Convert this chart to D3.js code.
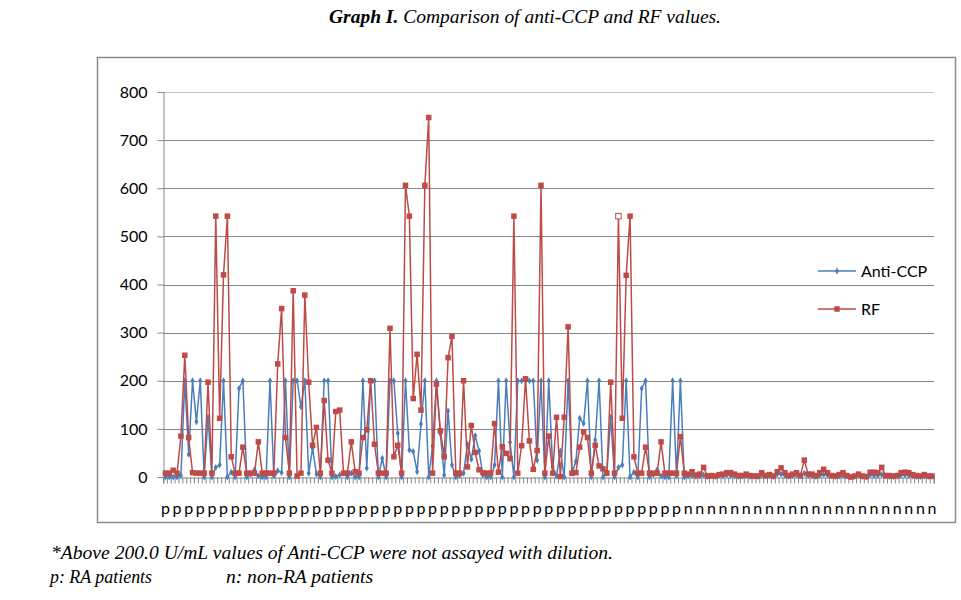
<!DOCTYPE html>
<html><head><meta charset="utf-8">
<script src="https://cdn.jsdelivr.net/npm/d3@7"></script>
<style>body{margin:0;background:#fff;} svg{display:block}</style>
</head><body>
<svg id="c" width="961" height="600"></svg>
<script>
// ---- data ----
const groupLabels = ["p", "n"];
const groupSizes = [135, 64];
const seriesNames = ["Anti-CCP", "RF"];
const yTicks = [0, 100, 200, 300, 400, 500, 600, 700, 800];

const antiCCP = [
  0,0,0,0,3,200,47,200,115,200,
  0,124,0,20,25,200,0,10,0,184,
  200,0,5,15,2,0,0,200,2,13,
  9,200,0,200,200,146,200,8,60,6,
  0,200,200,0,1,4,8,0,8,0,
  0,200,18,200,200,0,39,0,200,200,
  91,0,200,56,53,11,110,200,0,65,
  200,90,4,137,25,0,3,8,68,37,
  86,54,4,0,0,25,200,0,200,72,
  0,200,200,200,200,200,35,200,0,200,
  21,2,54,0,200,8,32,122,111,200,
  0,77,200,0,8,124,0,20,25,200,
  0,10,0,184,200,0,5,15,2,0,
  0,200,2,200,0,
  2,3,1,2,4,1,2,1,3,2,
  4,3,2,1,2,3,1,2,1,4,
  2,3,1,5,6,3,2,3,4,2,
  8,3,2,1,3,5,4,2,1,2,
  3,2,0,1,3,1,0,4,3,3,
  5,2,1,1,2,4,4,3,2,1,
  1,2,1,1
];

const rf = [
  8,8,14,8,85,253,82,9,8,8,
  8,197,8,542,122,420,542,42,8,8,
  62,8,8,8,73,8,8,8,8,235,
  350,82,8,387,2,8,378,197,66,103,
  8,159,35,8,136,139,8,8,73,11,
  8,82,98,200,68,8,8,8,309,42,
  66,8,606,542,163,255,139,606,747,8,
  193,96,42,248,292,8,8,200,21,107,
  51,15,9,8,8,111,10,63,49,38,
  542,8,65,204,75,16,55,606,8,85,
  8,124,1,124,312,8,9,62,94,82,
  8,66,23,17,8,197,8,542,122,419,
  542,42,8,8,62,8,8,8,73,8,
  8,8,8,84,8,
  6,11,4,6,20,2,3,2,5,6,
  9,9,6,3,3,6,3,2,2,9,
  3,5,2,11,19,9,3,6,9,3,
  35,6,6,3,9,16,9,3,2,5,
  9,3,0,2,6,2,1,10,10,9,
  20,3,3,2,3,9,10,9,5,3,
  2,5,2,2
];
const hollowRF = [117];

// ---- build ----
const categories = [];
groupLabels.forEach((g, k) => { for (let i = 0; i < groupSizes[k]; i++) categories.push(g); });
const idx = categories.map((_, i) => i);

const svg = d3.select("#c");
const P = {left: 163.5, right: 934, top: 92, bottom: 477};
const x = d3.scaleBand().domain(idx).range([P.left, P.right]);
const bw = x.bandwidth();
const cx = i => x(i) + bw / 2;
const y = d3.scaleLinear().domain([0, 800]).range([P.bottom, P.top]);

const blue = "#4A7EBB", red = "#BE4B48";
const sans = "Lato, 'Open Sans', sans-serif";
const serif = "'Liberation Serif', 'Times New Roman', serif";

// outer border
svg.append("rect").attr("x", 97.5).attr("y", 57.5).attr("width", 858).attr("height", 465)
  .attr("fill", "none").attr("stroke", "#8c8c8c").attr("stroke-width", 1.5);

// title
const t = svg.append("text").attr("x", 329).attr("y", 23)
  .attr("font-family", serif).attr("font-size", 18).attr("font-style", "italic").attr("fill", "#000")
  .attr("textLength", 392).attr("lengthAdjust", "spacingAndGlyphs");
t.append("tspan").attr("font-weight", "bold").text("Graph I.");
t.append("tspan").text(" Comparison of anti-CCP and RF values.");

// gridlines
svg.append("g").selectAll("line").data(yTicks.filter(v => v > 0)).join("line")
  .attr("x1", P.left).attr("x2", P.right)
  .attr("y1", d => Math.round(y(d)) + 0.5).attr("y2", d => Math.round(y(d)) + 0.5)
  .attr("stroke", d => d === 800 ? "#c4c4c4" : "#878787").attr("stroke-width", 1);

// y axis
const ya = svg.append("g").attr("transform", `translate(${P.left},0)`)
  .call(d3.axisLeft(y).tickValues(yTicks).tickSize(6).tickPadding(10));
ya.select(".domain").attr("stroke", "#878787");
ya.selectAll(".tick line").attr("stroke", "#878787");
ya.selectAll(".tick text").attr("font-family", sans).attr("font-size", 16).attr("fill", "#000");

// x axis (ticks between categories)
const xa = svg.append("g").attr("transform", `translate(0,${P.bottom + 0.5})`)
  .call(d3.axisBottom(x).tickSize(6).tickFormat(""));
xa.select(".domain").attr("stroke", "#878787");
xa.selectAll(".tick line").attr("stroke", "#878787").attr("transform", `translate(${-bw / 2},0)`);
xa.append("line").attr("x1", P.right).attr("x2", P.right).attr("y1", 0).attr("y2", 6).attr("stroke", "#878787");

// x labels every 3rd category
svg.append("g").selectAll("text").data(idx.filter(i => i % 3 === 0)).join("text")
  .attr("x", d => cx(d)).attr("y", 514).attr("text-anchor", "middle")
  .attr("font-family", sans).attr("font-size", 16).attr("fill", "#000")
  .text(d => categories[d]);

// lines
const line = d3.line().x((d, i) => cx(i)).y(d => y(d));
svg.append("path").datum(antiCCP).attr("d", line).attr("fill", "none")
  .attr("stroke", blue).attr("stroke-width", 1.5).attr("stroke-linejoin", "round");
const diamond = d3.symbol().type(d3.symbolDiamond).size(14);
svg.append("g").selectAll("path").data(antiCCP).join("path")
  .attr("d", diamond).attr("transform", (d, i) => `translate(${cx(i)},${y(d)})`)
  .attr("fill", blue);

svg.append("path").datum(rf).attr("d", line).attr("fill", "none")
  .attr("stroke", red).attr("stroke-width", 1.5).attr("stroke-linejoin", "round");
const sq = 5.5;
svg.append("g").selectAll("rect").data(rf).join("rect")
  .attr("x", (d, i) => cx(i) - sq / 2).attr("y", d => y(d) - sq / 2)
  .attr("width", sq).attr("height", sq)
  .attr("fill", (d, i) => hollowRF.includes(i) ? "#fff" : red)
  .attr("stroke", (d, i) => hollowRF.includes(i) ? red : "none").attr("stroke-width", 1);

// legend
const lg = svg.append("g");
[[blue, 271], [red, 309]].forEach(([c, ly], k) => {
  lg.append("line").attr("x1", 818).attr("x2", 856).attr("y1", ly).attr("y2", ly)
    .attr("stroke", c).attr("stroke-width", 1.5);
  if (k === 0) lg.append("path").attr("d", diamond).attr("transform", `translate(837,${ly})`).attr("fill", c);
  else lg.append("rect").attr("x", 837 - sq / 2).attr("y", ly - sq / 2).attr("width", sq).attr("height", sq).attr("fill", c);
  lg.append("text").attr("x", 861).attr("y", ly + 6).attr("font-family", sans).attr("font-size", 16)
    .attr("fill", "#000").text(seriesNames[k]);
});

// footnotes
const fn = svg.append("g").attr("font-family", serif).attr("font-size", 18).attr("font-style", "italic").attr("fill", "#000");
fn.append("text").attr("x", 51).attr("y", 559)
  .attr("textLength", 562).attr("lengthAdjust", "spacingAndGlyphs")
  .text("*Above 200.0 U/mL values of Anti-CCP were not assayed with dilution.");
fn.append("text").attr("x", 50).attr("y", 583)
  .attr("textLength", 102).attr("lengthAdjust", "spacingAndGlyphs").text("p: RA patients");
fn.append("text").attr("x", 226).attr("y", 583)
  .attr("textLength", 147).attr("lengthAdjust", "spacingAndGlyphs").text("n: non-RA patients");
</script>
</body></html>
